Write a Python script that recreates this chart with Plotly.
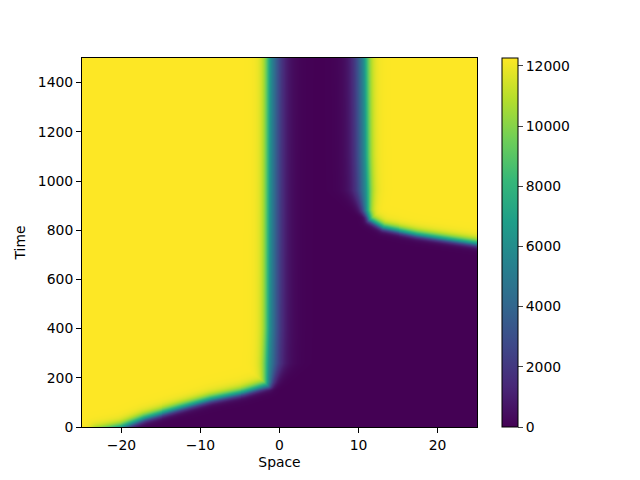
import numpy as np
import plotly.graph_objects as go

# front positions (centre of the transition)
left_front_x = [-23.0, -20.0, -17.1, -12.8, -8.7, -4.5, -1.5, -1.4, -1.2, -1.1, -1.1]
left_front_t = [-20, 0, 37, 77, 114, 142, 171, 185, 400, 1500, 1700]
right_front_x = [27.5, 24.9, 21.5, 17.4, 13.1, 11.4, 11.0, 10.8, 10.7, 10.7]
right_front_t = [735, 745, 761, 781, 810, 842, 880, 1100, 1500, 1700]
z_max = 12260
colorbar_ticks = [0, 2000, 4000, 6000, 8000, 10000, 12000]

space = np.linspace(-25, 25, 401)
time = np.linspace(0, 1500, 371)
X, T = np.meshgrid(space, time)

# pixel scale of the axes, so the fronts blur the same in both directions
sx, st = 7.95, 0.2457


def dist_to_line(xs, ts):
    px, pt = X * sx, T * st
    d = np.full(X.shape, np.inf)
    for i in range(len(xs) - 1):
        ax, at = xs[i] * sx, ts[i] * st
        bx, bt = xs[i + 1] * sx, ts[i + 1] * st
        vx, vt = bx - ax, bt - at
        s = ((px - ax) * vx + (pt - at) * vt) / (vx * vx + vt * vt)
        s = np.clip(s, 0, 1)
        d = np.minimum(d, np.hypot(px - ax - s * vx, pt - at - s * vt))
    return d


def profile(d, inside, w_in, w_out):
    sd = np.where(inside, d, -d)
    w = np.where(inside, w_in, w_out)
    return 1 / (1 + np.exp(-sd / w))


# moving fronts are sharp, standing fronts have a longer tail
xl = np.interp(time, left_front_t, left_front_x)[:, None]
u_left = profile(dist_to_line(left_front_x, left_front_t), X < xl,
                 np.interp(T, [150, 260], [3.0, 3.7]),
                 np.interp(T, [150, 260], [2.0, 6.5]))

xr = np.interp(time, right_front_t, right_front_x, left=np.inf)[:, None]
u_right = profile(dist_to_line(right_front_x, right_front_t), X > xr,
                  np.interp(T, [850, 960], [2.8, 3.7]),
                  np.interp(T, [850, 960], [1.8, 6.0]))

Z = np.maximum(u_left, u_right) * z_max

fig = go.Figure(go.Heatmap(
    x=space, y=time, z=Z,
    colorscale="Viridis", zmin=0, zmax=z_max,
    colorbar=dict(
        x=1.063, xanchor="left", xpad=0, ypad=0,
        y=0, yanchor="bottom", len=1, lenmode="fraction",
        thickness=16, outlinecolor="black", outlinewidth=1,
        tickvals=colorbar_ticks, tickformat="d", ticks="outside", ticklen=5,
        tickfont=dict(size=13.9, color="black"),
    ),
))

axis = dict(showline=True, mirror=True, linecolor="black", linewidth=1,
            ticks="outside", ticklen=5, tickcolor="black", showgrid=False,
            zeroline=False, tickfont=dict(size=13.9, color="black"))

fig.update_layout(
    width=640, height=480,
    # the page adds ~8px around the plot div
    margin=dict(l=72, r=171, t=50, b=61),
    font=dict(family="DejaVu Sans", size=13.9, color="black"),
    paper_bgcolor="white", plot_bgcolor="white",
    xaxis=dict(axis, range=[-25, 25], tickvals=[-20, -10, 0, 10, 20],
               ticktext=["\u221220", "\u221210", "0", "10", "20"],
               title=dict(text="Space", standoff=5, font=dict(size=13.9))),
    yaxis=dict(axis, range=[0, 1500], tickvals=list(range(0, 1500, 200)),
               title=dict(text="Time", standoff=8, font=dict(size=13.9))),
)

fig.write_html("out.html")
